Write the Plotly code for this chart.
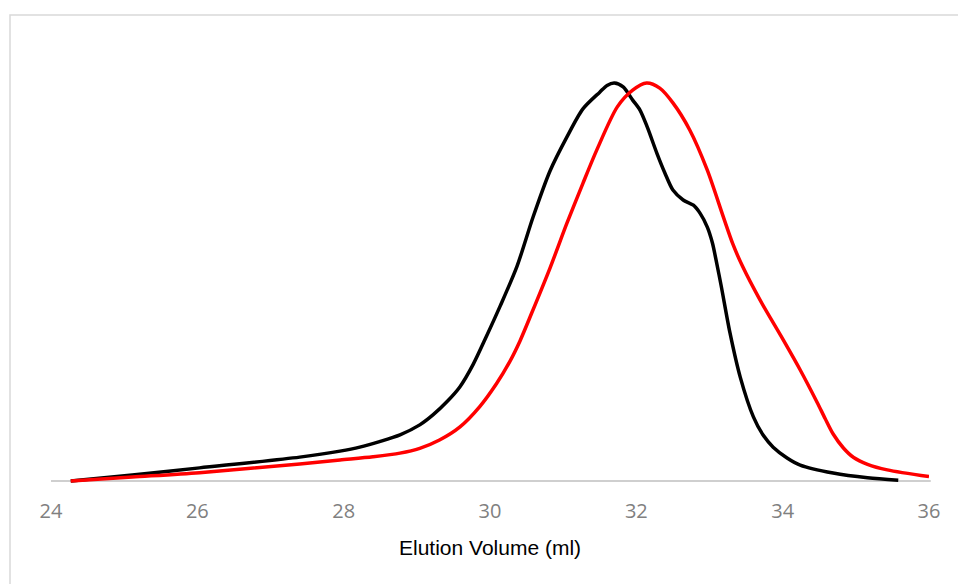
import plotly.graph_objects as go

# Elution volume (ml) and normalised absorbance for two samples
black_x = [24.27, 25.11, 26.03, 27.40, 27.95, 28.22, 28.49, 28.77, 29.04, 29.22, 29.41, 29.59,
           29.77, 29.95, 30.14, 30.37, 30.59, 30.82, 31.05, 31.27, 31.50, 31.60, 31.70, 31.82,
           31.95, 32.05, 32.15, 32.28, 32.39, 32.50, 32.64, 32.78, 32.87, 32.97, 33.04, 33.09,
           33.16, 33.28, 33.42, 33.60, 33.73, 33.87, 34.06, 34.24, 34.69, 35.16, 35.58]
black_y = [0.0, 0.015, 0.033, 0.060, 0.075, 0.085, 0.099, 0.116, 0.141, 0.166, 0.199, 0.237,
           0.293, 0.363, 0.440, 0.540, 0.664, 0.779, 0.864, 0.935, 0.977, 0.994, 1.000, 0.990,
           0.957, 0.932, 0.889, 0.824, 0.774, 0.731, 0.706, 0.693, 0.673, 0.638, 0.598, 0.555,
           0.490, 0.372, 0.261, 0.161, 0.116, 0.085, 0.058, 0.040, 0.020, 0.008, 0.002]

red_x = [24.27, 25.11, 26.03, 27.40, 27.95, 28.40, 28.77, 29.04, 29.31, 29.59, 29.86, 30.09,
         30.27, 30.41, 30.57, 30.82, 31.05, 31.27, 31.46, 31.74, 31.95, 32.14, 32.32, 32.50,
         32.73, 32.97, 33.19, 33.32, 33.45, 33.69, 34.01, 34.24, 34.47, 34.58, 34.69, 34.83,
         34.97, 35.16, 35.43, 36.00]
red_y = [0.0, 0.010, 0.021, 0.043, 0.053, 0.061, 0.070, 0.082, 0.103, 0.136, 0.187, 0.245,
         0.300, 0.352, 0.422, 0.535, 0.647, 0.748, 0.832, 0.940, 0.982, 1.000, 0.987, 0.950,
         0.882, 0.781, 0.663, 0.595, 0.540, 0.455, 0.354, 0.279, 0.198, 0.157, 0.118, 0.083,
         0.059, 0.042, 0.028, 0.011]

tick_vals = [24, 26, 28, 30, 32, 34, 36]
tick_text = ["24", "26", "28", "30", "32", "34", "36"]
x_title = "Elution Volume (ml)"

W, H = 958, 584
ml, mr, mt, mb = 51, 29, 40, 99
pw, ph = W - ml - mr, H - mt - mb

fig = go.Figure()
fig.add_trace(go.Scatter(x=black_x, y=black_y, mode="lines",
                         line=dict(color="#000000", width=3.5, shape="spline", smoothing=0.8),
                         showlegend=False, hoverinfo="skip"))
fig.add_trace(go.Scatter(x=red_x, y=red_y, mode="lines",
                         line=dict(color="#ff0000", width=3.5, shape="spline", smoothing=0.8),
                         showlegend=False, hoverinfo="skip"))

y_lo = -4 / 398
y_hi = y_lo + ph / 398

# baseline axis line
fig.add_shape(type="line", xref="paper", yref="y", x0=0, x1=1.002, y0=0, y1=0,
              line=dict(color="#bfbfbf", width=1.5), layer="below")
# outer chart border
fig.add_shape(type="rect", xref="paper", yref="paper",
              x0=(10 - ml) / pw, x1=(965 - ml) / pw,
              y0=(H - mb - 595) / ph, y1=(H - mb - 15) / ph,
              line=dict(color="#d9d9d9", width=1.5), layer="below")

fig.add_annotation(text=x_title, xref="paper", yref="paper",
                   x=(490 - ml) / pw, y=(H - mb - 547) / ph,
                   xanchor="center", yanchor="middle", showarrow=False,
                   font=dict(family="Liberation Sans, Arial", size=21, color="#000000"))

fig.update_layout(
    width=W, height=H,
    margin=dict(l=ml, r=mr, t=mt, b=mb, pad=0),
    paper_bgcolor="white", plot_bgcolor="white",
    xaxis=dict(range=[24, 36], tickvals=tick_vals, ticktext=tick_text,
               showgrid=False, zeroline=False, showline=False, ticks="",
               ticklabelstandoff=12,
               tickfont=dict(family="Open Sans", size=20, color="#808080")),
    yaxis=dict(range=[y_lo, y_hi], visible=False, showgrid=False, zeroline=False),
)

fig.write_html("out.html")
